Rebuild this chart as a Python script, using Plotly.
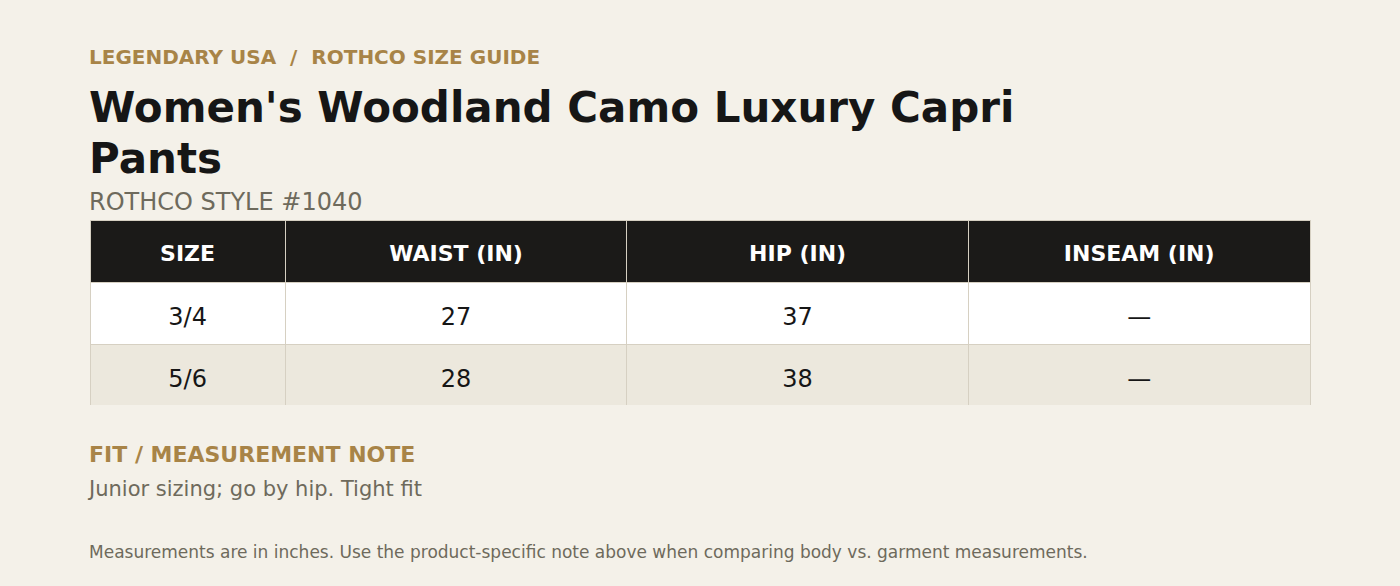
import plotly.graph_objects as go

W, H = 1400, 586

eyebrow = "LEGENDARY USA \u00a0/\u00a0 ROTHCO SIZE GUIDE"
title_lines = ["Women's Woodland Camo Luxury Capri", "Pants"]
style_no = "ROTHCO STYLE #1040"
note_head = "FIT / MEASUREMENT NOTE"
note_text = "Junior sizing; go by hip. Tight fit"
footer = ("Measurements are in inches. Use the product-specific note above "
          "when comparing body vs. garment measurements.")

headers = ["SIZE", "WAIST (IN)", "HIP (IN)", "INSEAM (IN)"]
sizes = ["3/4", "5/6"]
waist = ["27", "28"]
hip = ["37", "38"]
inseam = ["\u2014", "\u2014"]

bg = "#f4f1e9"
gold = "#a88447"
ink = "#161616"
grey = "#6e6a5c"
line = "#d6d0c2"
row_fills = ["#ffffff", "#ece8dd"]
clear = "rgba(0,0,0,0)"

font = "DejaVu Sans"
colw = [0.16, 0.28, 0.28, 0.28]


def py(px):
    # pixel row from top -> paper y
    return 1 - px / H


def px(x):
    return x / W


columns = [sizes, waist, hip, inseam]

fig = go.Figure()
# table body: fills and rules
fig.add_trace(go.Table(
    domain=dict(x=[px(90), px(1310)], y=[py(406), py(220)]),
    columnwidth=colw,
    header=dict(values=[""] * len(headers), fill_color="#1b1a18",
                line_color=line, height=62),
    cells=dict(values=[[""] * len(c) for c in columns],
               fill_color=[row_fills], line_color=line, height=62),
))
# text layer, nudged down so the labels sit in the middle of the rows
fig.add_trace(go.Table(
    domain=dict(x=[px(90), px(1310)], y=[py(440), py(233)]),
    columnwidth=colw,
    header=dict(
        values=[f"<b>{h}</b>" for h in headers],
        fill_color=clear, line_color=clear, align="center", height=66,
        font=dict(family=font, size=22, color="#ffffff"),
    ),
    cells=dict(
        values=columns,
        fill_color=clear, line_color=clear, align="center", height=62,
        font=dict(family=font, size=24, color=ink),
    ),
))

fig.add_annotation(text=f"<b>{eyebrow}</b>", x=px(87), y=py(57),
                   font=dict(family=font, size=20, color=gold))
fig.add_annotation(text=f"<b>{title_lines[0]}</b>", x=px(87), y=py(108),
                   font=dict(family=font, size=42, color=ink))
fig.add_annotation(text=f"<b>{title_lines[1]}</b>", x=px(87), y=py(158),
                   font=dict(family=font, size=42, color=ink))
fig.add_annotation(text=style_no, x=px(87), y=py(202),
                   font=dict(family=font, size=24, color=grey))
fig.add_annotation(text=f"<b>{note_head}</b>", x=px(87), y=py(454),
                   font=dict(family=font, size=22, color=gold))
fig.add_annotation(text=note_text, x=px(85), y=py(489),
                   font=dict(family=font, size=21, color=grey))
fig.add_annotation(text=footer, x=px(87), y=py(552),
                   font=dict(family=font, size=17, color=grey))
fig.update_annotations(xref="paper", yref="paper", xanchor="left",
                       yanchor="middle", align="left", showarrow=False)

fig.update_layout(
    width=W, height=H,
    margin=dict(l=0, r=0, t=0, b=0),
    paper_bgcolor=bg,
    plot_bgcolor=bg,
)

fig.write_html("out.html", config={"displayModeBar": False},
               post_script="document.body.style.margin='0';")
